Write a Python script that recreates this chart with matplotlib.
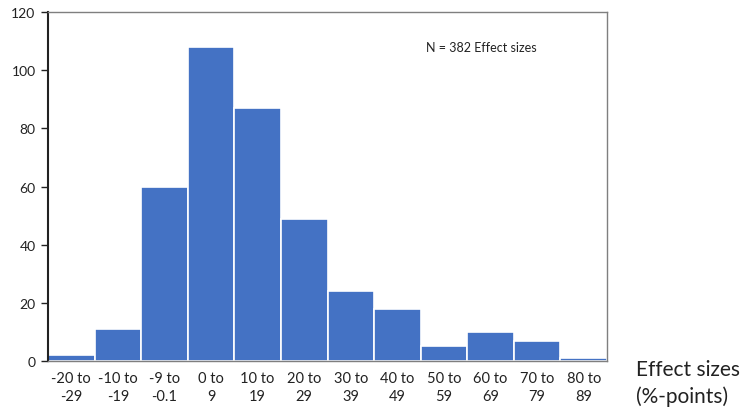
import matplotlib.pyplot as plt

plt.rcParams['font.family'] = ['Lato', 'DejaVu Sans']

categories = ["-20 to\n-29", "-10 to\n-19", "-9 to\n-0.1", "0 to\n9", "10 to\n19",
              "20 to\n29", "30 to\n39", "40 to\n49", "50 to\n59", "60 to\n69",
              "70 to\n79", "80 to\n89"]
counts = [2, 11, 60, 108, 87, 49, 24, 18, 5, 10, 7, 1]
y_ticks = [0, 20, 40, 60, 80, 100, 120]

fig = plt.figure(figsize=(7.47, 4.10), dpi=100)
ax = fig.add_axes([0.0643, 0.117, 0.7483, 0.851])

x = range(len(counts))
ax.bar(x, counts, width=1.0, color="#4472C4", edgecolor="white", linewidth=1.2)

ax.set_xlim(-0.5, len(counts) - 0.5)
ax.set_ylim(0, 120)
ax.set_yticks(y_ticks)
ax.set_xticks(list(x))
ax.set_xticklabels(categories, fontsize=10.5, color="#222222", linespacing=1.35)
ax.tick_params(axis="x", length=0, pad=7)
ax.tick_params(axis="y", length=5, width=1, labelsize=10, colors="#222222", pad=4)

ax.spines["left"].set_color("#222222")
ax.spines["left"].set_linewidth(1.5)
for s in ["top", "right", "bottom"]:
    ax.spines[s].set_color("#7f7f7f")
    ax.spines[s].set_linewidth(1.0)

ax.text(0.775, 0.9, "N = 382 Effect sizes", transform=ax.transAxes,
        ha="center", va="center", fontsize=9, color="#222222")

fig.text(0.852, 0.065, "Effect sizes\n(%-points)", ha="left", va="center",
         fontsize=15, color="#222222", linespacing=1.35)

fig.savefig("out.png", dpi=100)
